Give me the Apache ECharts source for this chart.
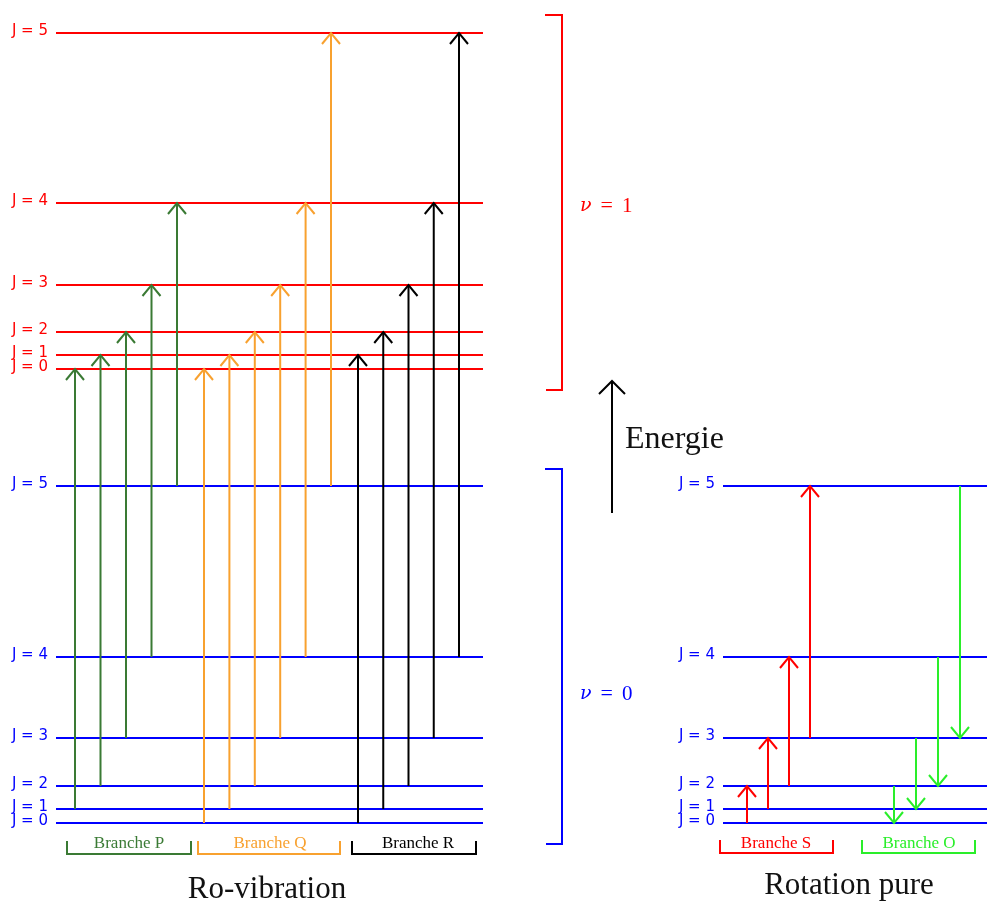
<!DOCTYPE html>
<html>
<head>
<meta charset="utf-8">
<script src="https://cdn.jsdelivr.net/npm/echarts@6/dist/echarts.min.js"></script>
<style>html,body{margin:0;padding:0;background:#fff}#c{width:987px;height:905px}</style>
</head>
<body>
<div id="c"></div>
<script>
// ---- data (energies in arbitrary units, J = 0..5) ----
const levelsV0 = [0, 14, 37, 85, 166, 337];
const levelsV1 = [454, 468, 491, 538, 620, 790];
const jLabels = ['J = 0', 'J = 1', 'J = 2', 'J = 3', 'J = 4', 'J = 5'];
// transitions [J lower state, J upper state]
const branchP = [[1, 0], [2, 1], [3, 2], [4, 3], [5, 4]];
const branchQ = [[0, 0], [1, 1], [2, 2], [3, 3], [4, 4], [5, 5]];
const branchR = [[0, 1], [1, 2], [2, 3], [3, 4], [4, 5]];
// pure rotation [J from, J to]
const branchS = [[0, 2], [1, 3], [2, 4], [3, 5]];
const branchO = [[2, 0], [3, 1], [4, 2], [5, 3]];
const branchNames = ['Branche P', 'Branche Q', 'Branche R', 'Branche S', 'Branche O'];
const titles = ['Ro-vibration', 'Rotation pure'];
const vibLabels = ['1', '0'];
const energyLabel = 'Energie';

// ---- layout / style ----
const RED = '#ff0000', BLUE = '#0000ff';
const GREEN = '#3a7a34', ORANGE = '#f8a12f', BLACK = '#000000', LIME = '#2aee2a';
const SERIF = '"Liberation Serif", "DejaVu Serif", serif';
const SANS = '"DejaVu Sans", sans-serif';

const chart = echarts.init(document.getElementById('c'), null, {renderer: 'canvas'});

function levelSeries(energies, x0, x1, color) {
  return {
    type: 'custom', coordinateSystem: 'cartesian2d', silent: true, animation: false, clip: false,
    data: energies.map((e, j) => [x0, x1, e, j]),
    encode: {x: [0, 1], y: 2},
    z: 2,
    renderItem(params, api) {
      const p0 = api.coord([api.value(0), api.value(2)]);
      const p1 = api.coord([api.value(1), api.value(2)]);
      const j = api.value(3);
      return {type: 'group', children: [
        {type: 'line', shape: {x1: p0[0], y1: p0[1], x2: p1[0], y2: p1[1]}, style: {stroke: color, lineWidth: 2.2}},
        {type: 'text', style: {text: jLabels[j], x: p0[0] - 8, y: p0[1] - 2, align: 'right', verticalAlign: 'middle', fill: color, font: '15px ' + SANS}}
      ]};
    }
  };
}

function arrowSeries(pairs, fromLevels, toLevels, xStart, step, color) {
  return {
    type: 'custom', coordinateSystem: 'cartesian2d', silent: true, animation: false, clip: false,
    data: pairs.map((p, i) => [xStart + i * step, fromLevels[p[0]], toLevels[p[1]]]),
    encode: {x: 0, y: [1, 2]},
    z: 3,
    renderItem(params, api) {
      const a = api.coord([api.value(0), api.value(1)]);
      const b = api.coord([api.value(0), api.value(2)]);
      const dir = b[1] < a[1] ? 1 : -1; // 1: pointing up
      const hw = 9, h = 11;
      return {type: 'group', children: [
        {type: 'line', shape: {x1: a[0], y1: a[1], x2: b[0], y2: b[1]}, style: {stroke: color, lineWidth: 2}},
        {type: 'polyline', shape: {points: [[b[0] - hw, b[1] + dir * h], [b[0], b[1]], [b[0] + hw, b[1] + dir * h]]}, style: {stroke: color, lineWidth: 2, fill: null}}
      ]};
    }
  };
}

function bracket(x0, x1, yTop, yBot, color, label, cx) {
  return [
    {type: 'polyline', shape: {points: [[x0, yTop], [x0, yBot], [x1, yBot], [x1, yTop]]}, style: {stroke: color, lineWidth: 2, fill: null}},
    {type: 'text', style: {text: label, x: cx, y: 844, align: 'center', verticalAlign: 'middle', fill: color, font: '17px ' + SERIF}}
  ];
}

function nuLabel(val, y, color) {
  return {type: 'text', style: {
    text: '{i|ν}{o|=}{n|' + val + '}', x: 580, y: y, align: 'left', verticalAlign: 'middle', fill: color,
    rich: {
      i: {fontStyle: 'italic', fontFamily: 'DejaVu Serif', fontSize: 19, fill: color},
      o: {fontFamily: 'Liberation Serif', fontSize: 22, fill: color, padding: [0, 9, 0, 9]},
      n: {fontFamily: 'Liberation Serif', fontSize: 21, fill: color}
    }
  }};
}

const graphics = [].concat(
  bracket(67, 191, 841, 854, GREEN, branchNames[0], 129),
  bracket(198, 340, 841, 854, ORANGE, branchNames[1], 270),
  bracket(352, 476, 841, 854, BLACK, branchNames[2], 418),
  bracket(720, 833, 840, 853, RED, branchNames[3], 776),
  bracket(862, 975, 840, 853, LIME, branchNames[4], 919),
  [
    {type: 'text', style: {text: titles[0], x: 267, y: 890, align: 'center', verticalAlign: 'middle', fill: '#111', font: '31px ' + SERIF}},
    {type: 'text', style: {text: titles[1], x: 849, y: 886, align: 'center', verticalAlign: 'middle', fill: '#111', font: '31px ' + SERIF}},
    // nu brackets
    {type: 'polyline', shape: {points: [[545, 15], [562, 15], [562, 390], [546, 390]]}, style: {stroke: RED, lineWidth: 2, fill: null}},
    {type: 'polyline', shape: {points: [[545, 469], [562, 469], [562, 844], [546, 844]]}, style: {stroke: BLUE, lineWidth: 2, fill: null}},
    nuLabel(vibLabels[0], 206, RED),
    nuLabel(vibLabels[1], 694, BLUE),
    // energy arrow
    {type: 'line', shape: {x1: 612, y1: 513, x2: 612, y2: 381}, style: {stroke: '#000', lineWidth: 2}},
    {type: 'polyline', shape: {points: [[599, 394], [612, 381], [625, 394]]}, style: {stroke: '#000', lineWidth: 2, fill: null}},
    {type: 'text', style: {text: energyLabel, x: 625, y: 440, align: 'left', verticalAlign: 'middle', fill: '#111', font: '32px ' + SERIF}}
  ]
);

chart.setOption({
  animation: false,
  backgroundColor: '#fff',
  grid: {left: 0, right: 0, top: 0, bottom: 0},
  xAxis: {type: 'value', min: 0, max: 987, show: false},
  yAxis: {type: 'value', min: -82, max: 823, show: false},
  series: [
    arrowSeries(branchP, levelsV0, levelsV1, 75, 25.5, GREEN),
    arrowSeries(branchQ, levelsV0, levelsV1, 204, 25.4, ORANGE),
    arrowSeries(branchR, levelsV0, levelsV1, 358, 25.25, BLACK),
    arrowSeries(branchS, levelsV0, levelsV0, 747, 21, RED),
    arrowSeries(branchO, levelsV0, levelsV0, 894, 22, LIME),
    levelSeries(levelsV1, 56, 483, RED),
    levelSeries(levelsV0, 56, 483, BLUE),
    levelSeries(levelsV0, 723, 987, BLUE)
  ],
  graphic: graphics
});
</script>
</body>
</html>
